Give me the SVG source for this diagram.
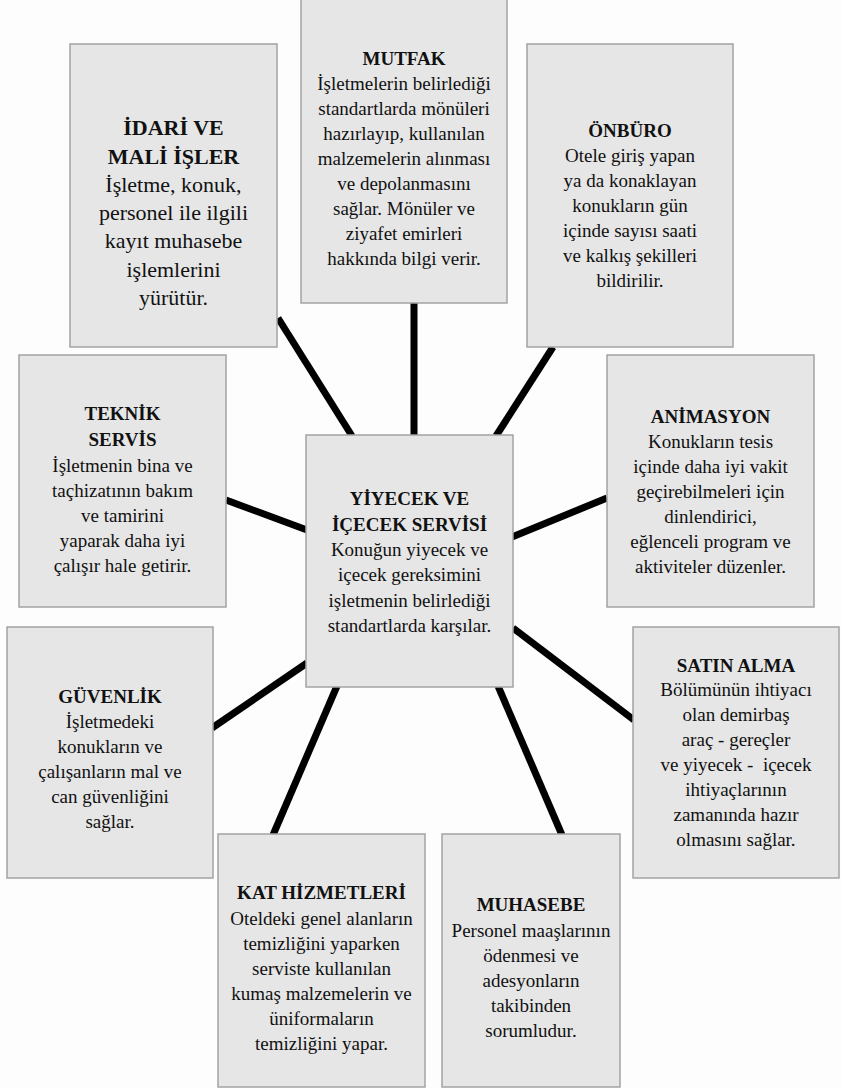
<svg xmlns="http://www.w3.org/2000/svg" width="841" height="1088" viewBox="0 0 841 1088">
<style>
.box{fill:#e6e6e6;stroke:#a3a3a3;stroke-width:1.5}
.c{stroke:#000;stroke-width:7;fill:none}
text{font-family:'Liberation Serif','DejaVu Serif',serif;font-size:19px;fill:#111;text-anchor:middle;white-space:pre}
.t{font-weight:bold}
.big{font-size:22px}
</style>
<rect width="841" height="1088" fill="#fdfdfd"/>
<g id="connectors">
<line class="c" x1="278" y1="318" x2="352" y2="436"/>
<line class="c" x1="414" y1="302" x2="414" y2="436"/>
<line class="c" x1="553" y1="347" x2="496" y2="436"/>
<line class="c" x1="226" y1="500" x2="307" y2="530"/>
<line class="c" x1="607" y1="498" x2="512" y2="537"/>
<line class="c" x1="212" y1="728" x2="307" y2="663"/>
<line class="c" x1="513" y1="628" x2="634" y2="720"/>
<line class="c" x1="337" y1="686" x2="273" y2="835"/>
<line class="c" x1="498" y1="686" x2="562" y2="835"/>
</g>
<g id="idari">
<rect class="box" x="70" y="44" width="207" height="303"/>
<text class="t big" x="173.5" y="135">İDARİ VE</text>
<text class="t big" x="173.5" y="164">MALİ İŞLER</text>
<text class="big" x="173.5" y="192">İşletme, konuk,</text>
<text class="big" x="173.5" y="220">personel ile ilgili</text>
<text class="big" x="173.5" y="248">kayıt muhasebe</text>
<text class="big" x="173.5" y="277">işlemlerini</text>
<text class="big" x="173.5" y="305">yürütür.</text>
</g>
<g id="mutfak">
<rect class="box" x="301" y="-1" width="206" height="304"/>
<text class="t" x="404" y="65">MUTFAK</text>
<text x="404" y="90">İşletmelerin belirlediği</text>
<text x="404" y="115">standartlarda mönüleri</text>
<text x="404" y="140">hazırlayıp, kullanılan</text>
<text x="404" y="165">malzemelerin alınması</text>
<text x="404" y="190">ve depolanmasını</text>
<text x="404" y="215">sağlar. Mönüler ve</text>
<text x="404" y="240">ziyafet emirleri</text>
<text x="404" y="265">hakkında bilgi verir.</text>
</g>
<g id="onburo">
<rect class="box" x="527" y="44" width="206" height="303"/>
<text class="t" x="630" y="137">ÖNBÜRO</text>
<text x="630" y="162">Otele giriş yapan</text>
<text x="630" y="187">ya da konaklayan</text>
<text x="630" y="212">konukların gün</text>
<text x="630" y="237">içinde sayısı saati</text>
<text x="630" y="262">ve kalkış şekilleri</text>
<text x="630" y="287">bildirilir.</text>
</g>
<g id="teknik">
<rect class="box" x="19" y="355" width="207" height="252"/>
<text class="t" x="122.5" y="420">TEKNİK</text>
<text class="t" x="122.5" y="446">SERVİS</text>
<text x="122.5" y="472">İşletmenin bina ve</text>
<text x="122.5" y="497">taçhizatının bakım</text>
<text x="122.5" y="522">ve tamirini</text>
<text x="122.5" y="547">yaparak daha iyi</text>
<text x="122.5" y="572">çalışır hale getirir.</text>
</g>
<g id="yiyecek">
<rect class="box" x="306" y="435" width="207" height="252"/>
<text class="t" x="409.5" y="505">YİYECEK VE</text>
<text class="t" x="409.5" y="531">İÇECEK SERVİSİ</text>
<text x="409.5" y="556">Konuğun yiyecek ve</text>
<text x="409.5" y="581">içecek gereksimini</text>
<text x="409.5" y="607">işletmenin belirlediği</text>
<text x="409.5" y="632">standartlarda karşılar.</text>
</g>
<g id="animasyon">
<rect class="box" x="607" y="355" width="207" height="252"/>
<text class="t" x="710.5" y="423">ANİMASYON</text>
<text x="710.5" y="448">Konukların tesis</text>
<text x="710.5" y="473">içinde daha iyi vakit</text>
<text x="710.5" y="498">geçirebilmeleri için</text>
<text x="710.5" y="523">dinlendirici,</text>
<text x="710.5" y="548">eğlenceli program ve</text>
<text x="710.5" y="573">aktiviteler düzenler.</text>
</g>
<g id="guvenlik">
<rect class="box" x="7" y="627" width="206" height="251"/>
<text class="t" x="110" y="703">GÜVENLİK</text>
<text x="110" y="728">İşletmedeki</text>
<text x="110" y="753">konukların ve</text>
<text x="110" y="778">çalışanların mal ve</text>
<text x="110" y="803">can güvenliğini</text>
<text x="110" y="828">sağlar.</text>
</g>
<g id="satinalma">
<rect class="box" x="633" y="627" width="206" height="251"/>
<text class="t" x="736" y="672">SATIN ALMA</text>
<text x="736" y="696">Bölümünün ihtiyacı</text>
<text x="736" y="721">olan demirbaş</text>
<text x="736" y="746">araç - gereçler</text>
<text x="736" y="771">ve yiyecek -  içecek</text>
<text x="736" y="796">ihtiyaçlarının</text>
<text x="736" y="821">zamanında hazır</text>
<text x="736" y="846">olmasını sağlar.</text>
</g>
<g id="kat">
<rect class="box" x="218" y="834" width="207" height="253"/>
<text class="t" x="321.5" y="899">KAT HİZMETLERİ</text>
<text x="321.5" y="925">Oteldeki genel alanların</text>
<text x="321.5" y="950">temizliğini yaparken</text>
<text x="321.5" y="975">serviste kullanılan</text>
<text x="321.5" y="1000">kumaş malzemelerin ve</text>
<text x="321.5" y="1025">üniformaların</text>
<text x="321.5" y="1050">temizliğini yapar.</text>
</g>
<g id="muhasebe">
<rect class="box" x="442" y="834" width="178" height="253"/>
<text class="t" x="531" y="911">MUHASEBE</text>
<text x="531" y="937">Personel maaşlarının</text>
<text x="531" y="962">ödenmesi ve</text>
<text x="531" y="987">adesyonların</text>
<text x="531" y="1012">takibinden</text>
<text x="531" y="1037">sorumludur.</text>
</g>
</svg>
